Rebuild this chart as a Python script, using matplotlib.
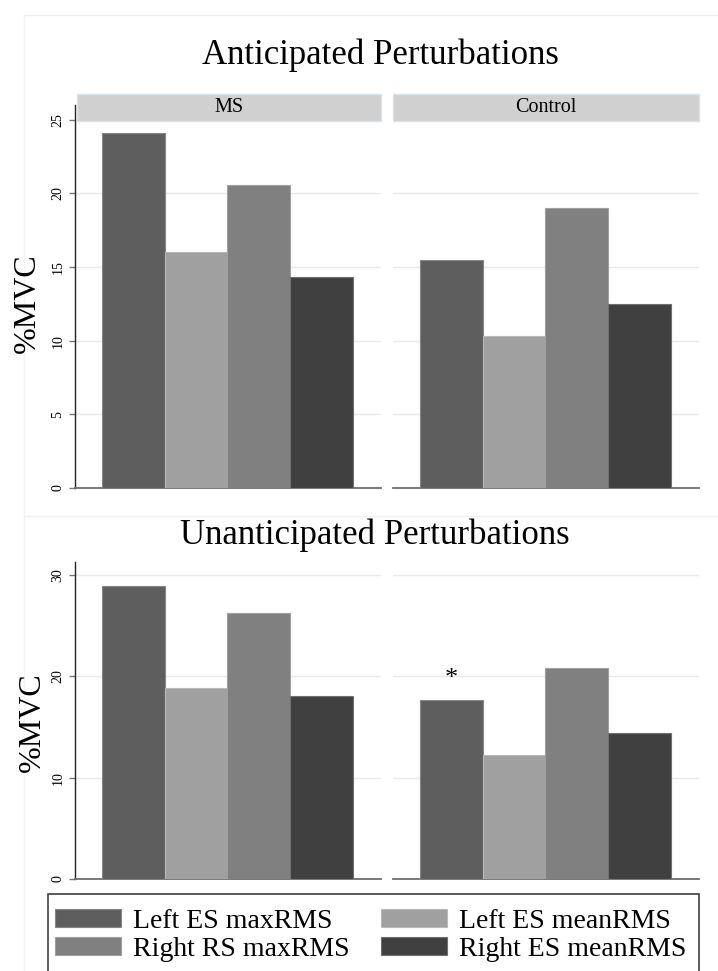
import matplotlib
matplotlib.use("Agg")
import matplotlib.pyplot as plt
import matplotlib.colors as mcolors
from matplotlib.patches import Rectangle
from matplotlib.lines import Line2D

plt.rcParams["font.family"] = ["Liberation Serif", "DejaVu Serif"]

# data
groups = ["MS", "Control"]
measures = ["Left ES maxRMS", "Left ES meanRMS", "Right RS maxRMS", "Right ES meanRMS"]
anticipated_ms = [24.1, 16.0, 20.6, 14.3]
anticipated_ctrl = [15.5, 10.3, 19.0, 12.5]
unanticipated_ms = [28.9, 18.9, 26.3, 18.1]
unanticipated_ctrl = [17.7, 12.2, 20.8, 14.4]
anticipated_ticks = [0, 5, 10, 15, 20, 25]
unanticipated_ticks = [0, 10, 20, 30]

bar_colors = ["#5e5e5e", "#a0a0a0", "#808080", "#404040"]

W, H = 718, 971
fig = plt.figure(figsize=(W / 100, H / 100), dpi=100)


def px_axes(left, top, right, bottom):
    return fig.add_axes([left / W, 1 - bottom / H, (right - left) / W, (bottom - top) / H])


def lighten(c, amt=0.25):
    r, g, b = mcolors.to_rgb(c)
    return (r + (1 - r) * amt, g + (1 - g) * amt, b + (1 - b) * amt)


def draw_panel(ax, values, ymax, ticks, first):
    xs = range(1, len(values) + 1)
    bars = ax.bar(xs, values, width=1.0, color=bar_colors,
                  edgecolor=[lighten(c) for c in bar_colors], linewidth=0.8, zorder=3)
    ax.set_xlim(0.07, 4.95)
    ax.set_ylim(0, ymax)
    ax.set_xticks([])
    ax.set_yticks(ticks)
    for t in ticks[1:]:
        ax.axhline(t, color="#eaeaea", linewidth=1, zorder=1)
    for side in ("top", "right"):
        ax.spines[side].set_visible(False)
    ax.spines["bottom"].set_color("#6e6e6e")
    ax.spines["bottom"].set_linewidth(1.3)
    if first:
        ax.spines["left"].set_color("#222222")
        ax.spines["left"].set_linewidth(1.0)
        ax.tick_params(axis="y", length=4.5, width=1, color="#777777",
                       labelsize=10, pad=3, labelrotation=90)
        for lab in ax.get_yticklabels():
            lab.set_va("center")
    else:
        ax.spines["left"].set_visible(False)
        ax.tick_params(axis="y", length=0, labelleft=False)
    return bars


# faint outer frame lines of the combined graph
for y in (15, 516):
    fig.add_artist(Line2D([24 / W, 1], [1 - y / H, 1 - y / H], color="#f0f0f0", linewidth=1))
fig.add_artist(Line2D([24 / W, 24 / W], [1 - 15 / H, 0], color="#f4f4f4", linewidth=1))

# top: anticipated
ax1 = px_axes(75, 105, 381, 488)
ax2 = px_axes(393, 105, 699, 488)
bars = draw_panel(ax1, anticipated_ms, 26.0, anticipated_ticks, True)
draw_panel(ax2, anticipated_ctrl, 26.0, anticipated_ticks, False)

for (l, r), name in zip([(77, 381), (393, 699)], groups):
    fig.patches.append(Rectangle((l / W, 1 - 121 / H), (r - l) / W, 27 / H,
                                 transform=fig.transFigure, facecolor="#d0d0d0",
                                 edgecolor="#d8e4ec", linewidth=1, zorder=5))
    fig.text((l + r) / 2 / W, 1 - 108 / H, name, ha="center", va="center",
             fontsize=14.5, zorder=6)

fig.text(380 / W, 1 - 55 / H, "Anticipated Perturbations", ha="center", va="center", fontsize=25)
fig.text(27 / W, 1 - 303 / H, "%MVC", rotation=90, ha="center", va="center", fontsize=23)

# bottom: unanticipated
ax3 = px_axes(75, 562, 381, 879)
ax4 = px_axes(393, 562, 699, 879)
draw_panel(ax3, unanticipated_ms, 31.3, unanticipated_ticks, True)
draw_panel(ax4, unanticipated_ctrl, 31.3, unanticipated_ticks, False)
ax4.text(1, unanticipated_ctrl[0] + 2.0, "*", ha="center", va="center", fontsize=19)

fig.text(375 / W, 1 - 535 / H, "Unanticipated Perturbations", ha="center", va="center", fontsize=25)
fig.text(32 / W, 1 - 722 / H, "%MVC", rotation=90, ha="center", va="center", fontsize=23)

# legend box (runs off the bottom edge like the reference), filled row by row
fig.patches.append(Rectangle((48 / W, -0.02), (699 - 48) / W, 1 - 894 / H + 0.02,
                             transform=fig.transFigure, facecolor="white",
                             edgecolor="#404040", linewidth=1.2, zorder=1))
order = [0, 2, 1, 3]
fig.legend([bars.patches[i] for i in order], [measures[i] for i in order],
           ncol=2, loc="upper left",
           bbox_to_anchor=(55 / W, 1 - 909 / H), frameon=False, fontsize=20,
           handlelength=2.37, handleheight=0.61, handletextpad=0.43,
           columnspacing=1.15, labelspacing=0.1, borderpad=0, borderaxespad=0)

fig.savefig("out.png", dpi=100, facecolor="white")
